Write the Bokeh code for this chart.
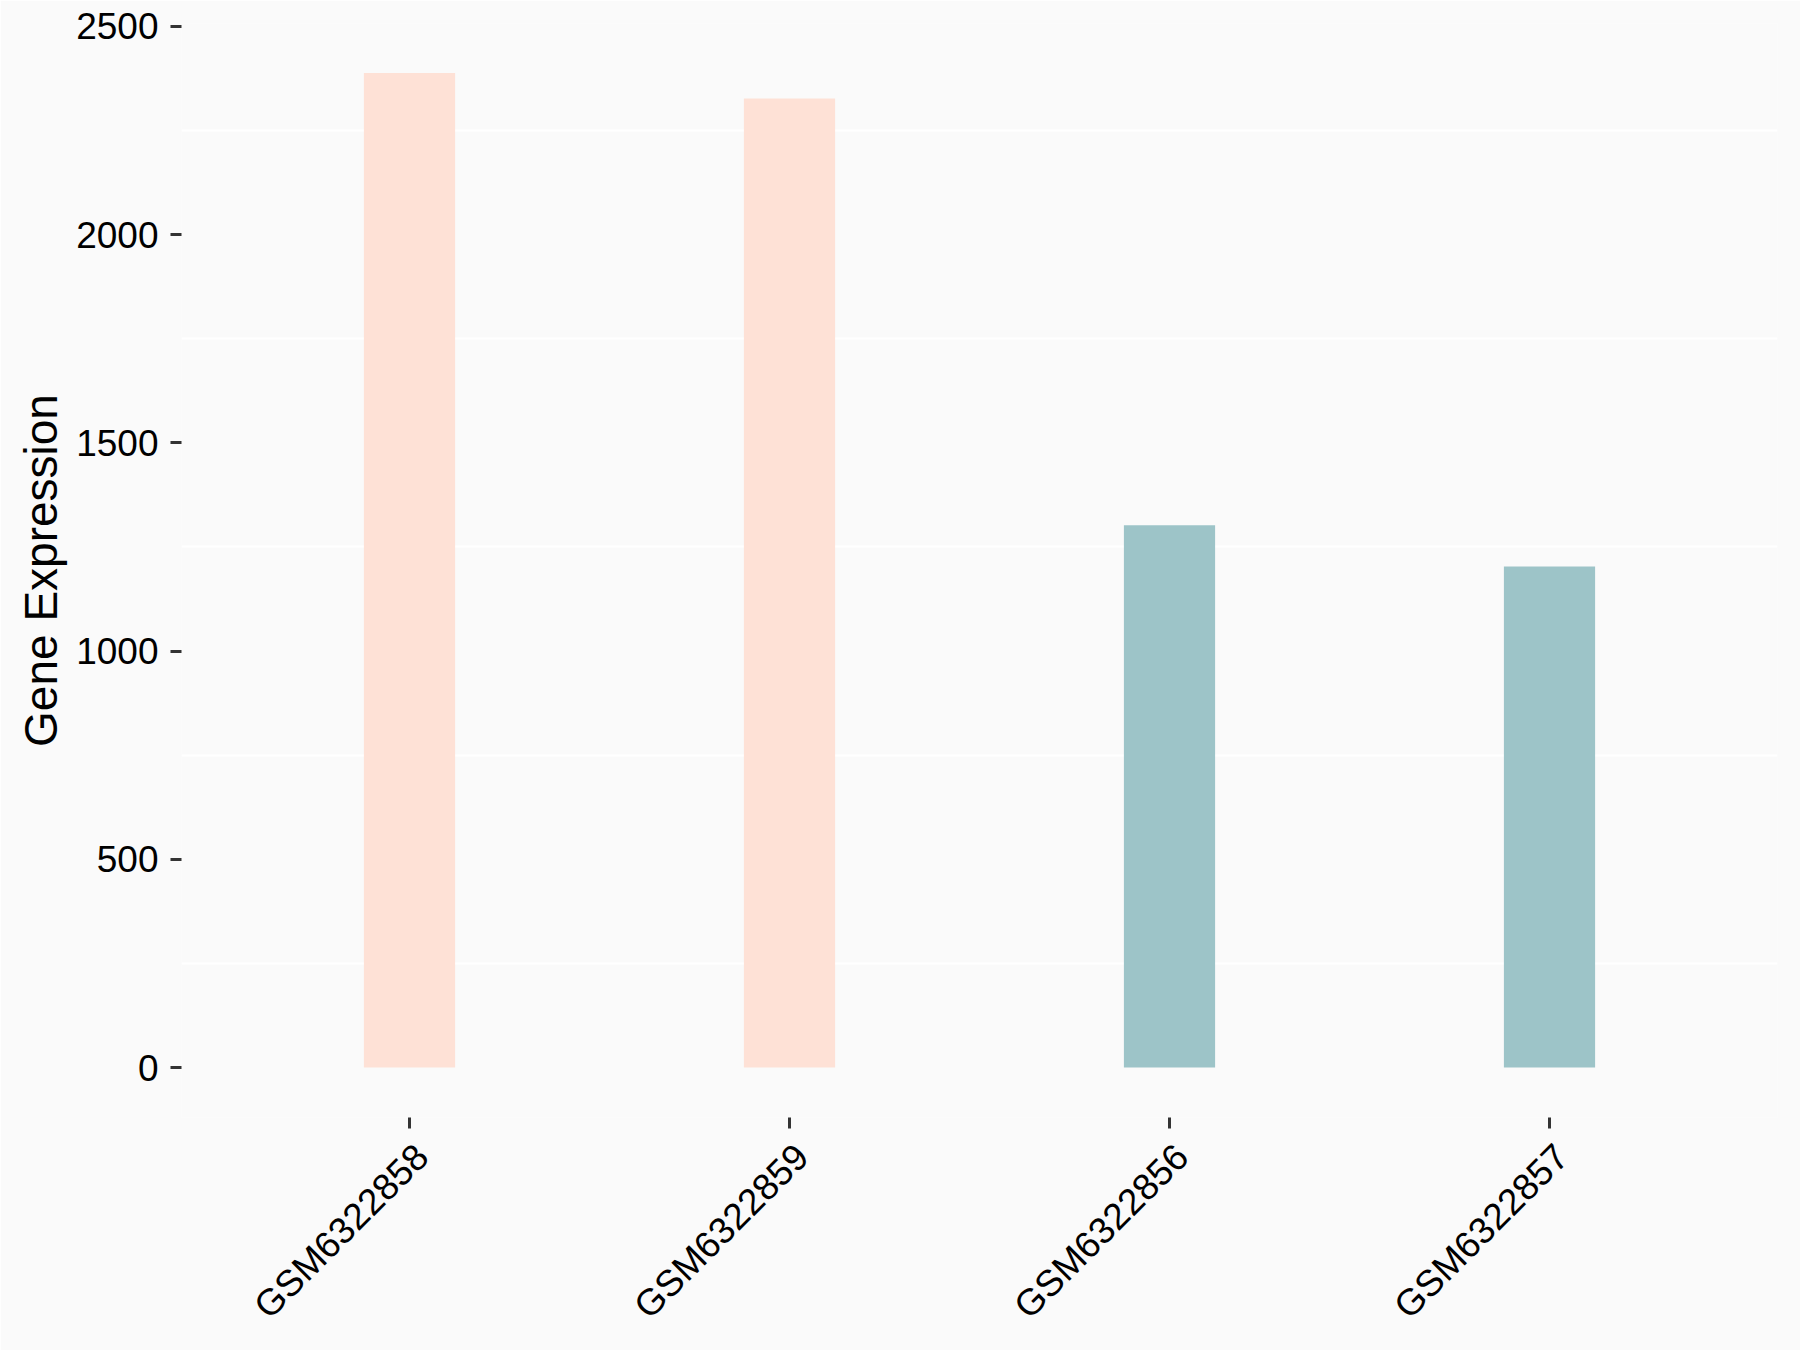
import math
from bokeh.plotting import figure
from bokeh.models import Range1d, FixedTicker, ColumnDataSource, LinearAxis
from bokeh.embed import file_html
from bokeh.resources import INLINE

samples = ["GSM6322858", "GSM6322859", "GSM6322856", "GSM6322857"]
expression = [2388, 2327, 1302, 1203]
groups = ["A", "A", "B", "B"]
group_colors = {"A": "#FEE1D6", "B": "#9DC4C8"}
y_ticks = [0, 500, 1000, 1500, 2000, 2500]
grid_ticks = [250, 750, 1250, 1750, 2250]

W, H = 1800, 1350
B_LEFT, B_RIGHT, B_TOP, B_BOTTOM = 181, 23, 23, 233
Y0, Y1 = -120, 2507
PAD = 0.1            # category padding on each side
LABEL_SHIFT = 0.033  # horizontal nudge of rotated labels (category units)

n = len(samples)
centers = [i + 0.5 for i in range(n)]   # category slot centres

source = ColumnDataSource(dict(
    x=centers,
    top=expression,
    color=[group_colors[g] for g in groups],
))

p = figure(
    width=W, height=H,
    x_range=Range1d(-PAD, n + PAD),
    y_range=Range1d(Y0, Y1),
    x_axis_type=None,
    output_backend="svg", toolbar_location=None,
    min_border_left=B_LEFT, min_border_right=B_RIGHT,
    min_border_top=B_TOP, min_border_bottom=B_BOTTOM,
)

bg = "#FAFAFA"
p.background_fill_color = bg
p.border_fill_color = bg
p.outline_line_color = None

p.vbar(x="x", top="top", bottom=0, width=0.24, fill_color="color", line_color=None, source=source)

p.ygrid.ticker = FixedTicker(ticks=grid_ticks)
p.ygrid.grid_line_color = "white"
p.ygrid.grid_line_width = 2

# tick-only x axis at the category centres
tick_axis = LinearAxis(ticker=FixedTicker(ticks=centers))
p.add_layout(tick_axis, "below")

p.yaxis.ticker = FixedTicker(ticks=y_ticks)
for ax in (tick_axis, p.yaxis[0]):
    ax.axis_line_color = None
    ax.major_tick_in = 0
    ax.major_tick_out = 11
    ax.major_tick_line_color = "#333333"
    ax.major_tick_line_width = 3
    ax.minor_tick_line_color = None
    ax.major_label_text_font = "Liberation Sans"
    ax.major_label_text_font_size = "37px"
    ax.major_label_text_color = "black"

p.yaxis.major_label_standoff = 12
tick_axis.major_label_overrides = {c: "" for c in centers}
tick_axis.major_label_text_font_size = "1px"
tick_axis.major_label_standoff = 0

# label axis: rotated sample names, nudged so their top-right corner sits under each tick
p.extra_x_ranges = {"lab": Range1d(-PAD - LABEL_SHIFT, n + PAD - LABEL_SHIFT)}
lab_axis = LinearAxis(
    x_range_name="lab",
    ticker=FixedTicker(ticks=centers),
    major_label_overrides={c: s for c, s in zip(centers, samples)},
    major_label_orientation=math.pi / 4,
    major_label_standoff=22,
    major_tick_in=0, major_tick_out=0,
    major_tick_line_color=None, minor_tick_line_color=None, axis_line_color=None,
    major_label_text_font="Liberation Sans", major_label_text_font_size="37px",
    major_label_text_color="black",
)
p.add_layout(lab_axis, "below")

p.yaxis.axis_label = "Gene Expression"
p.yaxis.axis_label_text_font = "Liberation Sans"
p.yaxis.axis_label_text_font_size = "46px"
p.yaxis.axis_label_text_font_style = "normal"
p.yaxis.axis_label_text_color = "black"
p.yaxis.axis_label_standoff = 6

open("out.html", "w").write(file_html(p, INLINE))
